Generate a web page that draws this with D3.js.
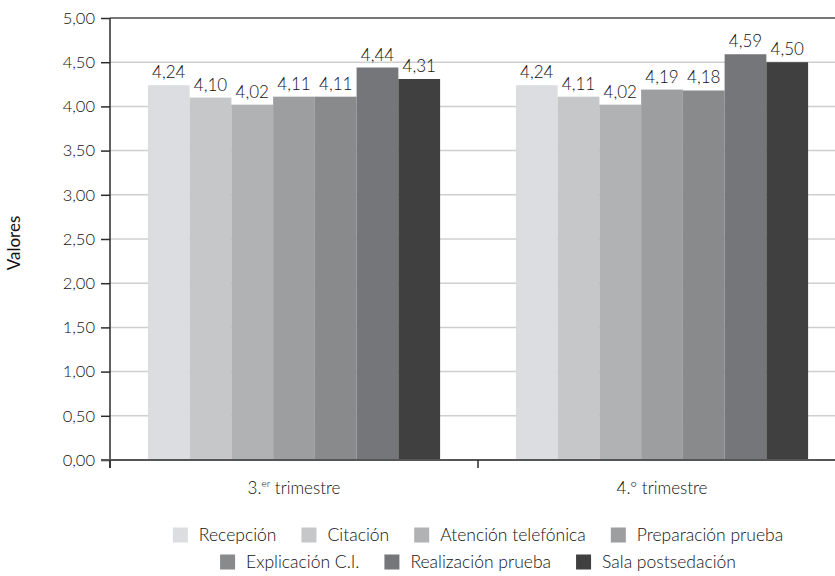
<!DOCTYPE html>
<html>
<head>
<meta charset="utf-8">
<script src="https://cdn.jsdelivr.net/npm/d3@7"></script>
<style>
  html, body { margin: 0; padding: 0; background: #fff; }
  svg { display: block; }
  text { font-family: Lato, "Open Sans", sans-serif; font-weight: 300; }
</style>
</head>
<body>
<svg id="chart" width="835" height="576"></svg>
<script>
// Trimesters on the x axis
const categories = ["3.er trimestre", "4.º trimestre"];
// Survey items, one bar each per trimester
const seriesNames = ["Recepción", "Citación", "Atención telefónica", "Preparación prueba",
                     "Explicación C.I.", "Realización prueba", "Sala postsedación"];
const values3 = [4.24, 4.10, 4.02, 4.11, 4.11, 4.44, 4.31];
const values4 = [4.24, 4.11, 4.02, 4.19, 4.18, 4.59, 4.50];
const yTicks = [0, 0.5, 1, 1.5, 2, 2.5, 3, 3.5, 4, 4.5, 5];
const colors = ["#dcdde0", "#c6c7c9", "#b1b2b4", "#9d9ea0", "#898a8c", "#75767a", "#404040"];

const seriesByCat = [values3, values4];
const fmt = v => v.toFixed(2).replace(".", ",");
const ink = "#111";

const svg = d3.select("#chart");
const m = { left: 110, right: 846, top: 18, bottom: 460 };

const y = d3.scaleLinear().domain([0, 5]).range([m.bottom, m.top]);
const x0 = d3.scaleBand().domain(categories).range([m.left, m.right])
  .paddingInner(0.206).paddingOuter(0.103);
const x1 = d3.scaleBand().domain(seriesNames).range([0, x0.bandwidth()]);

// Horizontal gridlines
svg.append("g").selectAll("line").data(yTicks.filter(t => t > 0 && t < 5)).join("line")
  .attr("x1", m.left).attr("x2", m.right)
  .attr("y1", d => y(d)).attr("y2", d => y(d))
  .attr("stroke", "#cfcfcf").attr("stroke-width", 1.5);

// Top border of the plot area
svg.append("line").attr("x1", m.left).attr("x2", m.right)
  .attr("y1", y(5)).attr("y2", y(5)).attr("stroke", "#4a4a4a").attr("stroke-width", 1.5);

// Bars
const groups = svg.append("g").selectAll("g").data(categories).join("g")
  .attr("transform", d => `translate(${x0(d)},0)`);

groups.selectAll("rect")
  .data((c, i) => seriesNames.map((s, j) => ({ s, v: seriesByCat[i][j], j })))
  .join("rect")
  .attr("x", d => x1(d.s))
  .attr("y", d => y(d.v))
  .attr("width", x1.bandwidth())
  .attr("height", d => y(0) - y(d.v))
  .attr("fill", d => colors[d.j]);

// Value labels
groups.selectAll("text.val")
  .data((c, i) => seriesNames.map((s, j) => ({ s, v: seriesByCat[i][j] })))
  .join("text").attr("class", "val")
  .attr("x", d => x1(d.s) + x1.bandwidth() / 2)
  .attr("y", d => y(d.v) - 7)
  .attr("text-anchor", "middle")
  .attr("fill", ink)
  .style("font-size", "17px")
  .text(d => fmt(d.v));

// Y axis
const yAxis = svg.append("g").attr("transform", `translate(${m.left},0)`)
  .call(d3.axisLeft(y).tickValues(yTicks).tickSize(9).tickPadding(6).tickFormat(fmt));
yAxis.select(".domain").attr("stroke", "#2b2b2b").attr("stroke-width", 1.5)
  .attr("d", `M0,${m.top}V${m.bottom + 8}`);
yAxis.selectAll(".tick line").attr("stroke", "#2b2b2b").attr("stroke-width", 1.5);
yAxis.selectAll(".tick text").style("font-size", "16.5px").style("font-family", "Lato, sans-serif")
  .style("font-weight", 300).attr("fill", ink);

// X axis baseline with boundary ticks
svg.append("line").attr("x1", m.left - 9).attr("x2", m.right)
  .attr("y1", m.bottom).attr("y2", m.bottom).attr("stroke", "#555").attr("stroke-width", 2);
const bounds = [m.left, (m.left + m.right) / 2, m.right];
svg.append("g").selectAll("line").data(bounds).join("line")
  .attr("x1", d => d).attr("x2", d => d)
  .attr("y1", m.bottom).attr("y2", m.bottom + 8)
  .attr("stroke", "#2b2b2b").attr("stroke-width", 1.5);

// Category labels with superscript ordinal
const catText = svg.append("g").selectAll("text").data(categories).join("text")
  .attr("x", d => x0(d) + x0.bandwidth() / 2)
  .attr("y", 494)
  .attr("text-anchor", "middle")
  .attr("fill", ink)
  .style("font-size", "17px");
catText.each(function (d) {
  const t = d3.select(this);
  const parts = d.match(/^(\d\.)(er|º)(.*)$/);
  t.append("tspan").text(parts[1]);
  if (parts[2] === "er") {
    t.append("tspan").attr("dy", -7).style("font-size", "10px").text(parts[2]);
    t.append("tspan").attr("dy", 7).text(parts[3]);
  } else {
    t.append("tspan").text(parts[2] + parts[3]);
  }
});

// Y axis title
svg.append("text")
  .attr("transform", "translate(20,243) rotate(-90)")
  .attr("text-anchor", "middle")
  .attr("fill", ink)
  .style("font-size", "17px").style("font-weight", 400)
  .text("Valores");

// Legend in two centred rows
const rows = [seriesNames.slice(0, 4), seriesNames.slice(4)];
const rowY = [535, 562];
const sq = 15, gapText = 11, gapItem = 25;
const cx = (m.left + m.right) / 2;
rows.forEach((row, r) => {
  const g = svg.append("g");
  const items = row.map(name => {
    const it = g.append("g");
    it.append("rect").attr("width", sq).attr("height", sq).attr("y", -sq / 2)
      .attr("fill", colors[seriesNames.indexOf(name)]);
    const tx = it.append("text").attr("x", sq + gapText).attr("dy", "0.35em")
      .attr("fill", ink)
      .style("font-size", "17.5px").text(name);
    return { it, w: sq + gapText + tx.node().getComputedTextLength() };
  });
  const total = d3.sum(items, d => d.w) + gapItem * (items.length - 1);
  let xPos = cx - total / 2;
  items.forEach(d => {
    d.it.attr("transform", `translate(${xPos},${rowY[r]})`);
    xPos += d.w + gapItem;
  });
});
</script>
</body>
</html>
